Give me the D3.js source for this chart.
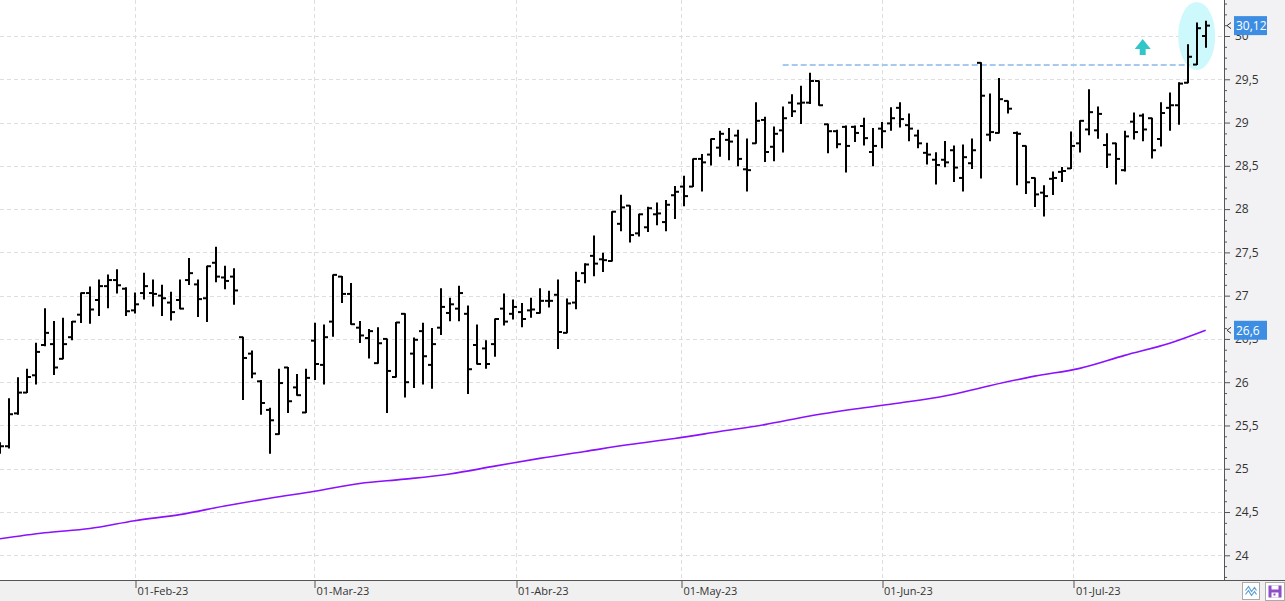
<!DOCTYPE html>
<html>
<head>
<meta charset="utf-8">
<script src="https://cdn.jsdelivr.net/npm/d3@7/dist/d3.min.js"></script>
<style>
  body { margin: 0; background: #fff; }
  svg { display: block; font-family: "Open Sans", sans-serif; }
</style>
</head>
<body>
<div id="chart"></div>
<script>
// daily OHLC, bar index 0..134 (late Jan 23 -> 24 Jul 23)
var opens = [25.20,25.26,25.64,25.88,26.08,26.43,26.44,26.27,26.52,26.78,27.03,26.95,27.11,27.18,27.08,26.83,27.03,27.03,27.00,26.92,
  26.95,27.18,27.13,26.97,27.38,27.21,27.22,26.52,26.33,26.01,25.68,25.40,26.17,25.94,25.65,26.48,26.20,26.70,27.22,27.02,
  26.63,26.51,26.22,26.50,26.06,26.79,26.33,26.59,26.20,26.63,26.80,26.85,26.79,26.43,26.39,26.44,26.85,26.79,26.81,26.83,
  26.80,26.94,27.01,26.57,26.92,27.26,27.46,27.42,27.40,27.83,28.04,27.72,27.79,27.94,27.85,28.16,28.26,28.26,28.58,28.63,
  28.71,28.80,28.85,28.46,28.76,29.03,28.72,28.91,29.23,29.22,29.23,29.48,28.98,28.90,28.95,28.95,28.96,28.66,28.93,28.99,
  29.17,28.97,28.85,28.65,28.57,28.57,28.68,28.36,28.53,29.69,28.86,28.88,29.25,28.88,28.73,28.36,28.19,28.35,28.43,28.47,
  28.76,28.92,28.91,28.74,28.76,28.45,29.01,29.08,29.05,28.81,29.17,29.20,29.46,29.67,30.00];
var highs = [25.30,25.81,26.05,26.15,26.45,26.85,26.70,26.74,26.70,27.03,27.10,27.18,27.24,27.30,27.09,27.03,27.26,27.18,27.12,27.04,
  27.18,27.43,27.18,27.34,27.56,27.34,27.31,26.52,26.36,26.02,25.70,26.15,26.17,26.09,26.15,26.68,26.66,27.24,27.22,27.14,
  26.70,26.61,26.63,26.50,26.69,26.79,26.51,26.68,26.62,27.08,26.97,27.11,26.88,26.66,26.48,26.73,27.02,26.95,26.91,26.97,
  27.08,27.05,27.18,26.96,27.27,27.37,27.69,27.49,27.97,28.16,28.04,27.94,28.02,28.07,28.10,28.26,28.38,28.58,28.63,28.81,
  28.90,28.93,28.91,28.81,29.23,29.06,28.95,29.18,29.32,29.42,29.57,29.48,28.98,28.91,28.96,28.96,29.05,28.93,29.00,29.17,
  29.23,29.10,28.91,28.76,28.65,28.78,28.73,28.74,28.81,29.69,29.33,29.51,29.25,28.89,28.73,28.36,28.27,28.43,28.48,28.89,
  29.02,29.38,29.18,28.87,28.76,28.90,29.11,29.10,29.05,29.23,29.34,29.46,29.90,30.15,30.17];
var lows = [25.18,25.24,25.63,25.88,25.98,26.42,26.09,26.27,26.49,26.69,26.68,26.77,26.86,27.03,26.77,26.80,26.96,26.88,26.77,26.72,
  26.85,27.13,26.76,26.70,27.16,27.08,26.90,25.80,26.05,25.63,25.18,25.40,25.65,25.85,25.65,26.03,25.98,26.53,26.92,26.67,
  26.46,26.28,26.22,25.65,26.06,25.83,25.94,25.98,25.93,26.55,26.71,26.71,25.87,26.21,26.16,26.30,26.66,26.73,26.64,26.75,
  26.80,26.87,26.39,26.57,26.85,27.15,27.23,27.28,27.40,27.75,27.62,27.69,27.74,27.82,27.75,27.89,28.04,28.26,28.21,28.51,
  28.61,28.57,28.50,28.21,28.76,28.55,28.56,28.66,29.07,28.99,29.22,29.20,28.65,28.71,28.43,28.78,28.74,28.50,28.71,28.91,
  28.95,28.79,28.71,28.52,28.29,28.49,28.32,28.21,28.47,28.36,28.79,28.88,29.11,28.28,28.18,28.03,27.92,28.17,28.32,28.47,
  28.66,28.86,28.82,28.48,28.29,28.44,28.81,28.79,28.59,28.73,28.91,28.98,29.46,29.67,29.87];
var closes = [25.26,25.63,25.88,26.06,26.35,26.57,26.17,26.44,26.70,27.03,26.84,27.11,27.18,27.12,26.82,26.90,27.11,27.02,26.97,26.81,
  26.85,27.26,26.96,27.34,27.22,27.17,27.06,26.28,26.10,25.76,25.56,25.99,25.78,25.85,26.05,26.21,26.52,27.24,27.02,26.67,
  26.54,26.59,26.45,26.13,26.69,26.00,26.49,26.30,26.44,26.87,26.90,27.03,26.15,26.21,26.21,26.73,26.70,26.87,26.73,26.84,
  26.94,26.94,26.58,26.91,27.17,27.36,27.37,27.41,27.97,28.02,27.70,27.94,28.01,27.95,28.05,28.20,28.15,28.58,28.54,28.81,
  28.87,28.78,28.58,28.45,29.02,28.66,28.87,29.05,29.13,29.23,29.48,29.20,28.90,28.75,28.73,28.88,28.82,28.73,28.90,29.05,
  29.04,28.93,28.76,28.63,28.51,28.54,28.48,28.60,28.68,29.31,28.89,29.27,29.16,28.87,28.31,28.17,28.15,28.36,28.44,28.73,
  29.02,29.12,29.10,28.63,28.58,28.84,28.89,28.92,28.68,29.11,29.20,29.45,29.76,30.09,30.12];

// moving average, read at every 5th bar
var maIdx = [0,5,10,15,20,25,30,35,40,45,50,55,60,65,70,75,80,85,90,95,100,105,110,115,120,125,130,134];
var maVal = [24.19,24.26,24.31,24.40,24.47,24.57,24.66,24.74,24.83,24.88,24.94,25.03,25.12,25.20,25.28,25.35,25.43,25.51,
  25.61,25.69,25.76,25.84,25.96,26.07,26.16,26.31,26.45,26.60];

// month labels and their position on the bar index
var tickLabels = ["01-Feb-23", "01-Mar-23", "01-Abr-23", "01-May-23", "01-Jun-23", "01-Jul-23"];
var tickIdx = [15.03, 34.92, 57.32, 75.7, 97.98, 119.3];

var resistance = 29.665;

var width = 1285, height = 601,
    plotW = 1224, plotH = 580;

var x = d3.scaleLinear().domain([0, 134]).range([-0.3, 1205.7]);
var y = d3.scaleLinear().domain([24, 30]).range([555.3, 36]);
var comma = function(v) { return String(+v.toFixed(2)).replace(".", ","); };

var svg = d3.select("#chart").append("svg")
    .attr("width", width)
    .attr("height", height);

svg.append("rect").attr("width", plotW).attr("height", plotH).attr("fill", "#fff");
svg.append("rect").attr("x", plotW).attr("width", width - plotW).attr("height", plotH).attr("fill", "#f2f2f5");
svg.append("rect").attr("y", plotH).attr("width", width).attr("height", height - plotH).attr("fill", "#f0f0f0");

var plot = svg.append("g");

// grid
var majors = d3.range(24, 30.01, 0.5);
plot.selectAll(".hgrid").data(majors).enter().append("line")
    .attr("x1", 0).attr("x2", plotW)
    .attr("y1", function(d) { return Math.round(y(d)) + 0.5; })
    .attr("y2", function(d) { return Math.round(y(d)) + 0.5; })
    .attr("stroke", "#dedede").attr("stroke-dasharray", "4,3");
plot.selectAll(".vgrid").data(tickIdx).enter().append("line")
    .attr("x1", function(d) { return Math.round(x(d)) + 0.5; })
    .attr("x2", function(d) { return Math.round(x(d)) + 0.5; })
    .attr("y1", 0).attr("y2", plotH)
    .attr("stroke", "#dedede").attr("stroke-dasharray", "4,3");

// highlight ellipse around last bars
plot.append("ellipse")
    .attr("cx", x(133)).attr("cy", y(30))
    .attr("rx", 18.5).attr("ry", 34)
    .attr("fill", "#cdf8fc");

// resistance line
plot.append("line")
    .attr("x1", x(87)).attr("x2", x(132.2))
    .attr("y1", y(resistance)).attr("y2", y(resistance))
    .attr("stroke", "#a8c9ef").attr("stroke-width", 2).attr("stroke-dasharray", "6,3");

// moving average
var ma = maIdx.map(function(d, i) { return [d, maVal[i]]; });
plot.append("path")
    .datum(ma)
    .attr("fill", "none")
    .attr("stroke", "#8a10ff")
    .attr("stroke-width", 1.6)
    .attr("d", d3.line()
      .x(function(d) { return x(d[0]); })
      .y(function(d) { return y(d[1]); })
      .curve(d3.curveMonotoneX));

// OHLC bars
var bars = plot.selectAll(".bar")
    .data(d3.range(opens.length))
  .enter().append("g")
    .attr("class", "bar")
    .attr("stroke", "#000")
    .attr("stroke-width", 2);

bars.append("line")
    .attr("x1", function(i) { return Math.round(x(i)); })
    .attr("x2", function(i) { return Math.round(x(i)); })
    .attr("y1", function(i) { return y(highs[i]) - 0.5; })
    .attr("y2", function(i) { return y(lows[i]) + 0.5; });
bars.append("line")
    .attr("x1", function(i) { return Math.round(x(i)) - 4; })
    .attr("x2", function(i) { return Math.round(x(i)); })
    .attr("y1", function(i) { return y(opens[i]); })
    .attr("y2", function(i) { return y(opens[i]); });
bars.append("line")
    .attr("x1", function(i) { return Math.round(x(i)); })
    .attr("x2", function(i) { return Math.round(x(i)) + 4; })
    .attr("y1", function(i) { return y(closes[i]); })
    .attr("y2", function(i) { return y(closes[i]); });

// up arrow
var ax = x(127), at = y(29.965), ab = y(29.78);
plot.append("path")
    .attr("d", "M" + ax + "," + at + " L" + (ax + 8) + "," + (at + 10) + " L" + (ax + 3) + "," + (at + 10) +
      " L" + (ax + 3) + "," + ab + " L" + (ax - 3) + "," + ab + " L" + (ax - 3) + "," + (at + 10) +
      " L" + (ax - 8) + "," + (at + 10) + "Z")
    .attr("fill", "#33c6c8");

// y axis (right)
var minors = d3.range(23.75, 30.4, 0.125).filter(function(d) { return Math.abs(d * 2 - Math.round(d * 2)) > 1e-6; });
svg.append("g")
    .attr("transform", "translate(" + plotW + ",0)")
    .call(d3.axisRight(y).tickValues(minors).tickSize(3).tickFormat(""))
    .call(function(g) { g.select(".domain").remove(); g.selectAll("line").attr("stroke", "#555"); });
var yAxis = svg.append("g")
    .attr("transform", "translate(" + plotW + ",0)")
    .call(d3.axisRight(y).tickValues(majors).tickSize(6).tickPadding(5).tickFormat(comma));
yAxis.select(".domain").remove();
yAxis.selectAll("line").attr("stroke", "#555");
yAxis.selectAll("text").attr("fill", "#333").attr("font-size", "12px").attr("font-family", "Open Sans");
svg.append("line")
    .attr("x1", plotW + 0.5).attr("x2", plotW + 0.5).attr("y1", 0).attr("y2", plotH)
    .attr("stroke", "#555");

// x axis
var xAxis = svg.append("g")
    .attr("transform", "translate(0," + plotH + ")")
    .call(d3.axisBottom(x).tickValues(tickIdx).tickSize(8).tickPadding(-2)
      .tickFormat(function(d, i) { return tickLabels[i]; }));
xAxis.select(".domain").remove();
xAxis.selectAll("line").attr("stroke", "#555")
    .attr("transform", function(d) { return "translate(" + (Math.round(x(d)) + 0.5 - x(d)) + ",0)"; });
xAxis.selectAll("text")
    .attr("text-anchor", "start").attr("dx", 2).attr("y", 7)
    .attr("fill", "#333").attr("font-size", "11px").attr("font-family", "Open Sans");
svg.append("line")
    .attr("x1", 0).attr("x2", width).attr("y1", plotH + 0.5).attr("y2", plotH + 0.5)
    .attr("stroke", "#555");

// last value boxes
var tags = [{v: closes[closes.length - 1], label: "30,12"}, {v: maVal[maVal.length - 1], label: "26,6"}];
var tag = svg.selectAll(".tag").data(tags).enter().append("g")
    .attr("class", "tag")
    .attr("transform", function(d) { return "translate(" + plotW + "," + y(d.v) + ")"; });
tag.append("path")
    .attr("d", "M7,-3 L3,0 L7,3")
    .attr("fill", "none").attr("stroke", "#333");
tag.append("rect")
    .attr("x", 10).attr("y", -9.5).attr("width", 33).attr("height", 19)
    .attr("fill", "#3d8ee2");
tag.append("text")
    .attr("x", 12).attr("y", 4.5)
    .attr("fill", "#fff").attr("font-size", "12px")
    .text(function(d) { return d.label; });

// little buttons in the corner
var b1 = svg.append("g").attr("transform", "translate(1242.5,582.5)");
b1.append("rect").attr("width", 17).attr("height", 17).attr("fill", "#fff").attr("stroke", "#aaa");
b1.append("path").attr("d", "M3,8 L6,4 L9,9 L12,5 L14,8 M3,12 L6,8 L9,13 L12,9 L14,12")
    .attr("fill", "none").attr("stroke", "#5a9fd6").attr("stroke-width", 1.2);
var b2 = svg.append("g").attr("transform", "translate(1265.5,582.5)");
b2.append("rect").attr("width", 19).attr("height", 18).attr("fill", "#fff").attr("stroke", "#aaa");
b2.append("rect").attr("x", 3).attr("y", 3).attr("width", 13).attr("height", 12).attr("fill", "#8e4ec6");
b2.append("rect").attr("x", 6).attr("y", 3).attr("width", 7).attr("height", 4).attr("fill", "#fff");
b2.append("rect").attr("x", 6).attr("y", 10).attr("width", 7).attr("height", 5).attr("fill", "#fff");
b2.append("rect").attr("x", 8).attr("y", 11).attr("width", 2).attr("height", 2).attr("fill", "#8e4ec6");
</script>
</body>
</html>
